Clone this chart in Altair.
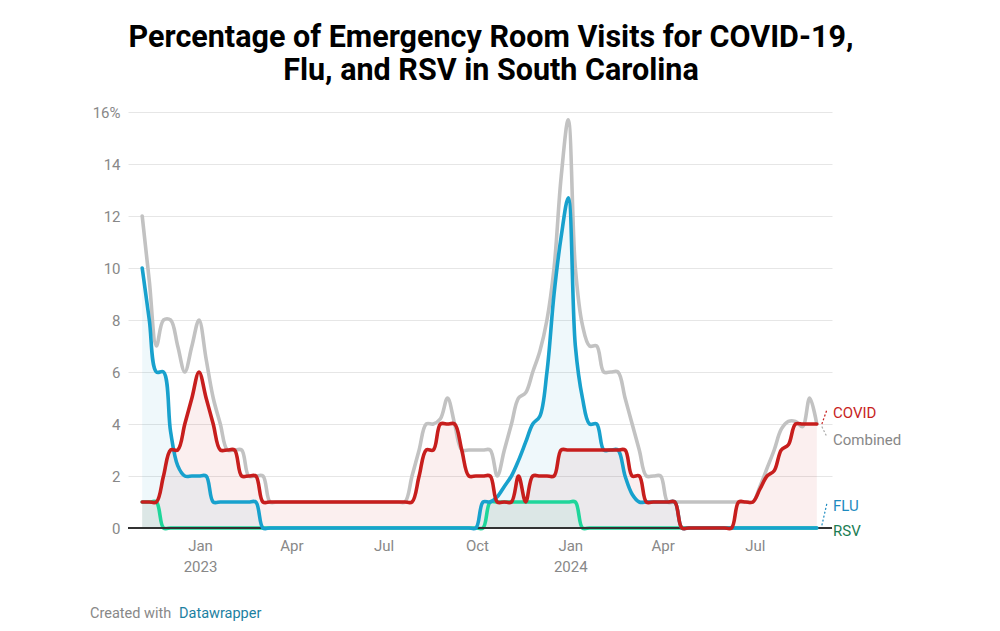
import altair as alt
import pandas as pd

# ---------------- data (weekly) ----------------
start_date = "2022-11-05"
n_weeks = 96

covid = ([1, 1, 1] + [2, 3, 3, 4, 5, 6] + [5, 4, 3, 3, 3] + [2, 2, 2] + [1] * 22 +
         [2, 3, 3, 4, 4, 4] + [3, 2, 2, 2, 2] + [1, 1, 1] + [2, 1, 2, 2, 2, 2] +
         [3] * 10 + [2, 2] + [1] * 5 + [0] * 8 + [1, 1, 1] +
         [1.5, 2, 2.2, 3, 3.2, 4, 4, 4, 4])
flu = ([10, 8, 6, 6] + [3.7, 2.4, 2, 2, 2, 2] + [1] * 7 + [0] * 31 +
       [1, 1, 1.2, 1.6, 2, 2.6, 3.3, 4, 4.3, 6, 9, 11.2, 12.7] +
       [7, 5, 4, 4, 3, 3, 3, 2] + [1.3, 1, 1, 1, 1, 1, 1] + [0] * 20)
rsv = [1, 1, 1] + [0] * 46 + [1] * 13 + [0] * 34
combined = ([12, 9.5, 7, 8, 8, 7, 6, 7, 8, 6.5, 5, 4, 3, 3, 3, 2, 2, 2, 1] + [1] * 19 +
            [2, 3, 4, 4, 4.2, 5, 4, 3, 3, 3, 3, 3, 2] +
            [3, 4, 5, 5.2, 6, 6.8, 8, 10, 13.5, 15.7, 10, 7.8] +
            [7, 7, 6, 6, 6, 5, 4, 3, 2, 2, 2, 1] + [1] * 12 +
            [1.6, 2.3, 3, 3.8, 4.1, 4.1, 3.9, 5, 4])

series_names = ["COVID", "Combined", "FLU", "RSV"]
line_colors = {"COVID": "#c71e1d", "Combined": "#c2c2c2", "FLU": "#18a1cd", "RSV": "#1ed69a"}
label_colors = {"COVID": "#c71e1d", "Combined": "#888888", "FLU": "#1d8bc0", "RSV": "#1a7d53"}
label_values = [4.42, 3.38, 0.85, -0.12]
label_date = "2024-09-16"

# dotted connectors from line ends to labels
conn_series = ["COVID", "Combined", "FLU"]
conn_from = [4.0, 3.9, 0.1]
conn_to = [4.55, 3.5, 0.95]
conn_d1 = "2024-09-05"
conn_d2 = "2024-09-10"

y_ticks = [0, 2, 4, 6, 8, 10, 12, 14, 16]

title_lines = ["Percentage of Emergency Room Visits for COVID-19,",
               "Flu, and RSV in South Carolina"]

# ---------------- tables ----------------
dates = pd.date_range(start_date, periods=n_weeks, freq="7D").strftime("%Y-%m-%d")
wide = pd.DataFrame({"date": dates, "COVID": covid, "FLU": flu, "RSV": rsv, "Combined": combined})
long = wide.melt("date", var_name="series", value_name="value")

labels_df = pd.DataFrame({
    "date": [label_date] * 4,
    "value": label_values,
    "text": series_names,
    "color": [label_colors[s] for s in series_names],
})
conn_df = pd.DataFrame({
    "date": [conn_d1] * 3, "date2": [conn_d2] * 3,
    "value": conn_from, "value2": conn_to,
    "color": [label_colors[s] if s != "Combined" else "#aaaaaa" for s in conn_series],
})

FONT = "Roboto"

x_enc = alt.X(
    "date:T",
    scale=alt.Scale(type="utc",
                    domain=[alt.DateTime(year=2022, month=10, date=22, utc=True),
                            alt.DateTime(year=2024, month=9, date=15, utc=True)]),
    axis=alt.Axis(
        values=[alt.DateTime(year=2023, month=m, date=1, utc=True) for m in (1, 4, 7, 10)] +
               [alt.DateTime(year=2024, month=m, date=1, utc=True) for m in (1, 4, 7)],
        labelExpr="utcFormat(datum.value, '%m') == '01' ? [utcFormat(datum.value, '%b'), utcFormat(datum.value, '%Y')] : utcFormat(datum.value, '%b')",
        grid=False, domain=False, ticks=False, title=None,
        labelFont=FONT, labelFontSize=15, labelColor="#888888", labelPadding=10,
        labelLineHeight=21, labelBaseline="top",
    ),
)
y_enc = alt.Y(
    "value:Q",
    scale=alt.Scale(domain=[0, 16], nice=False, zero=False),
    axis=alt.Axis(
        values=y_ticks,
        labelExpr="datum.value == 16 ? '16%' : datum.label",
        grid=True, gridColor="#e6e6e6", gridWidth=1,
        domain=False, ticks=False, title=None,
        labelFont=FONT, labelFontSize=15, labelColor="#888888", labelPadding=8,
    ),
)

base = alt.Chart(long).encode(x=x_enc, y=y_enc)


def area_for(name, opacity):
    return base.transform_filter(alt.datum.series == name).mark_area(
        interpolate="catmull-rom", color=line_colors[name], opacity=opacity)


def line_for(name):
    return base.transform_filter(alt.datum.series == name).mark_line(
        interpolate="catmull-rom", color=line_colors[name], strokeWidth=3.6,
        strokeCap="round", strokeJoin="round")


baseline = alt.Chart(long).mark_rule(color="#333333", strokeWidth=1.3).encode(y=alt.datum(0))

connectors = alt.Chart(conn_df).mark_rule(strokeDash=[2, 2], strokeWidth=1.2).encode(
    x="date:T", x2="date2:T", y="value:Q", y2="value2:Q",
    color=alt.Color("color:N", scale=None))

labels = alt.Chart(labels_df).mark_text(
    align="left", baseline="middle", font=FONT, fontSize=15).encode(
    x="date:T", y="value:Q", text="text:N", color=alt.Color("color:N", scale=None))

footer1 = alt.Chart(pd.DataFrame({"t": ["Created with"]})).mark_text(
    align="left", baseline="middle", font=FONT, fontSize=14.5, color="#888888").encode(
    x=alt.value(-38), y=alt.value(502), text="t:N")
footer2 = alt.Chart(pd.DataFrame({"t": ["Datawrapper"]})).mark_text(
    align="left", baseline="middle", font=FONT, fontSize=14.5, color="#1d81a2").encode(
    x=alt.value(51), y=alt.value(502), text="t:N")

chart = alt.layer(
    area_for("COVID", 0.07),
    area_for("FLU", 0.07),
    area_for("RSV", 0.07),
    line_for("Combined"),
    line_for("RSV"),
    baseline,
    line_for("FLU"),
    line_for("COVID"),
    connectors,
    labels,
    footer1,
    footer2,
).properties(
    width=704, height=416,
    title=alt.TitleParams(text=title_lines, font=FONT, fontSize=30.5, fontWeight="bold",
                          color="#000000", anchor="middle", dx=11, offset=19, lineHeight=33),
    autosize=alt.AutoSizeParams(type="none"),
    padding={"left": 120, "top": 104, "right": 160, "bottom": 95},
).configure_view(stroke=None)

chart.save("out.html", embed_options={"renderer": "svg", "actions": False})
